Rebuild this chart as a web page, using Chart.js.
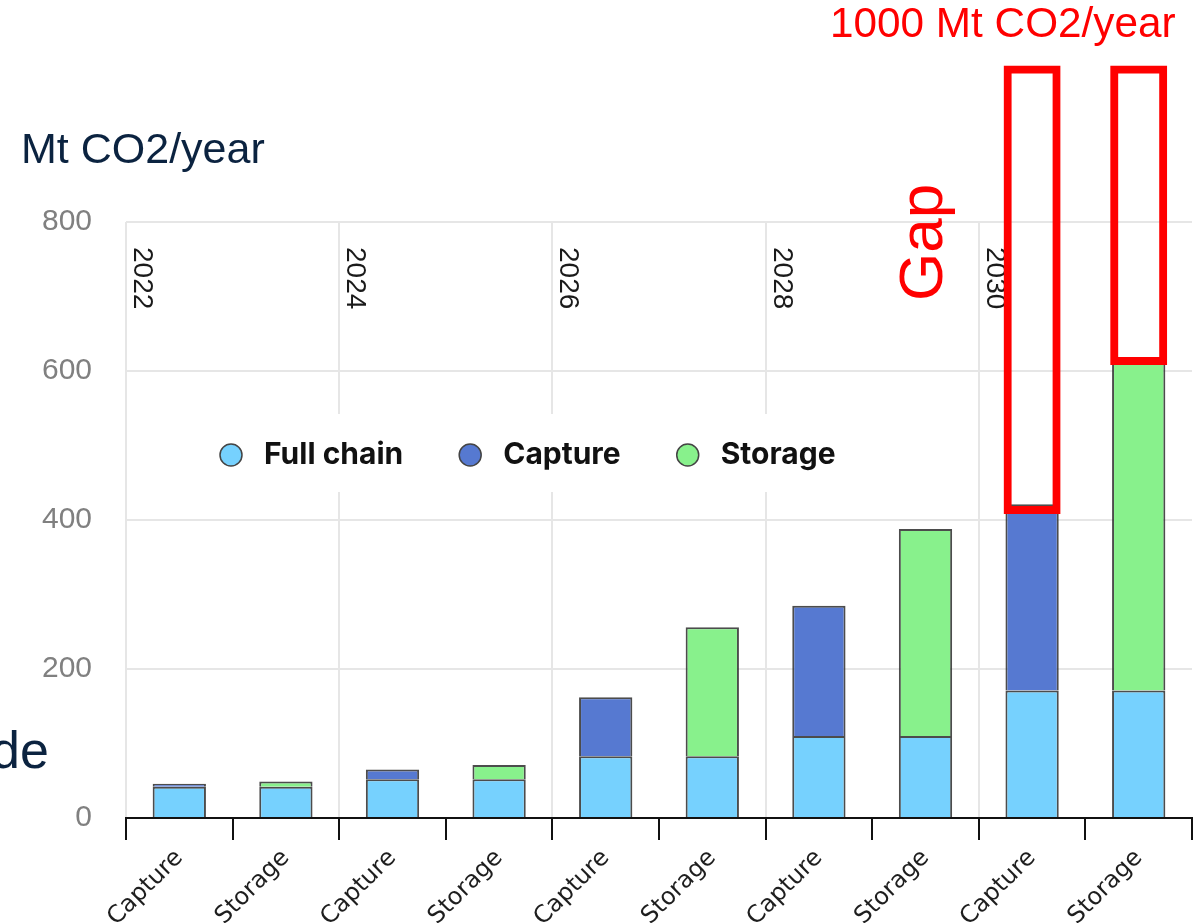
<!DOCTYPE html>
<html>
<head>
<meta charset="utf-8">
<script src="https://cdn.jsdelivr.net/npm/chart.js@4/dist/chart.umd.min.js"></script>
<style>
  body { margin: 0; background: #fff; }
  #wrap { position: relative; width: 1196px; height: 923px; overflow: hidden; }
  #chart { position: absolute; left: 0; top: 0; }
  .note { position: absolute; font-family: "Liberation Sans", Arial, sans-serif; line-height: 1; white-space: nowrap; }
  #unit { left: 21px; top: 127px; font-size: 43px; color: #0b2340; }
  #target { left: 830px; top: 2px; font-size: 42.3px; color: #ff0000; }
  #gap { left: 890px; top: 301px; font-size: 62px; color: #ff0000; transform: rotate(-90deg); transform-origin: 0 0; }
  #cut { left: -9px; top: 724px; font-size: 52px; color: #0b2340; }
</style>
</head>
<body>
<div id="wrap">
  <canvas id="chart" width="1196" height="923"></canvas>
  <div class="note" id="unit">Mt CO2/year</div>
  <div class="note" id="target">1000 Mt CO2/year</div>
  <div class="note" id="gap">Gap</div>
  <div class="note" id="cut">de</div>
</div>
<script>
const categories = ['Capture', 'Storage', 'Capture', 'Storage', 'Capture', 'Storage', 'Capture', 'Storage', 'Capture', 'Storage'];
const yearLabels = ['2022', '2024', '2026', '2028', '2030'];
const fullChain = [42, 42, 52, 52, 83, 83, 110, 110, 171, 171];
const capture = [4, null, 13, null, 79, null, 175, null, 250, null];
const storage = [null, 7, null, 19, null, 173, null, 278, null, 440];
const gapBottom = [null, null, null, null, null, null, null, null, 408, 608];
const gapTop = [null, null, null, null, null, null, null, null, 1010, 1010];
const yTicks = [0, 200, 400, 600, 800];

const barBorder = 'rgba(45, 45, 45, 0.85)';

// legend + year labels drawn inside the plot
const overlayPlugin = {
  id: 'overlay',
  beforeDatasetsDraw(chart) {
    const { ctx, chartArea, scales } = chart;
    const x = scales.x;
    const half = x.width / categories.length / 2;
    ctx.save();
    // year labels next to every other grid line
    ctx.fillStyle = '#1a1a1a';
    ctx.font = '28px "Liberation Sans", Arial, sans-serif';
    ctx.textBaseline = 'alphabetic';
    yearLabels.forEach((yr, k) => {
      const edge = x.getPixelForValue(k * 2) - half;
      ctx.save();
      ctx.translate(edge + 8, chartArea.top + 25);
      ctx.rotate(Math.PI / 2);
      ctx.fillText(yr, 0, 0);
      ctx.restore();
    });
    // legend box
    ctx.fillStyle = '#fff';
    ctx.fillRect(200, 414, 670, 78);
    let cx = 231;
    const cy = 455;
    ctx.font = 'bold 30px Inter, "Noto Sans", sans-serif';
    ctx.textBaseline = 'middle';
    chart.data.datasets.slice(0, 3).forEach(ds => {
      ctx.beginPath();
      ctx.arc(cx, cy, 11, 0, Math.PI * 2);
      ctx.fillStyle = ds.backgroundColor;
      ctx.fill();
      ctx.lineWidth = 1.5;
      ctx.strokeStyle = '#444';
      ctx.stroke();
      ctx.fillStyle = '#111';
      ctx.fillText(ds.label, cx + 33, cy);
      cx += 33 + ctx.measureText(ds.label).width + 67;
    });
    ctx.restore();
  }
};

new Chart(document.getElementById('chart'), {
  type: 'bar',
  data: {
    labels: categories,
    datasets: [
      { label: 'Full chain', data: fullChain, backgroundColor: '#76d1fe' },
      { label: 'Capture', data: capture, backgroundColor: '#5679d1' },
      { label: 'Storage', data: storage, backgroundColor: '#88f18c' },
      {
        // gap up to 1000 Mt, on its own (unstacked) value axis
        label: 'Gap',
        data: gapBottom.map((b, i) => (b === null ? null : [b, gapTop[i]])),
        yAxisID: 'y2',
        backgroundColor: 'rgba(0,0,0,0)',
        borderColor: '#ff0000',
        borderWidth: 8,
        borderSkipped: false,
        barPercentage: 0.535,
        clip: false,
        order: -1
      }
    ]
  },
  options: {
    responsive: false,
    animation: false,
    devicePixelRatio: 1,
    layout: { padding: { top: 222, right: 4, left: 0, bottom: 0 } },
    datasets: {
      bar: {
        barPercentage: 0.5,
        categoryPercentage: 1,
        borderColor: barBorder,
        borderWidth: 2
      }
    },
    plugins: {
      legend: { display: false },
      tooltip: { enabled: false }
    },
    scales: {
      x: {
        stacked: true,
        offset: true,
        afterFit: s => { s.height = 105; },
        grid: {
          offset: true,
          color: c => (c.index % 2 === 0 && c.index < categories.length ? '#e6e6e6' : 'rgba(0,0,0,0)'),
          lineWidth: 2,
          tickColor: '#111',
          tickWidth: 2,
          tickLength: 22
        },
        border: { color: '#111', width: 2 },
        ticks: {
          color: '#1e1e1e',
          font: { family: '"DejaVu Sans", Verdana, sans-serif', size: 24 },
          minRotation: 45,
          maxRotation: 45,
          padding: 4
        }
      },
      y: {
        stacked: true,
        min: 0,
        max: 800,
        afterFit: s => { s.width = 126; },
        afterBuildTicks: s => { s.ticks = yTicks.map(v => ({ value: v })); },
        grid: {
          color: c => (c.tick && c.tick.value === 0 ? 'rgba(0,0,0,0)' : '#e6e6e6'),
          lineWidth: 2,
          drawTicks: false
        },
        border: { display: false },
        ticks: {
          color: '#808080',
          font: { family: '"Liberation Sans", Arial, sans-serif', size: 30 },
          padding: 34
        }
      },
      y2: {
        type: 'linear',
        position: 'left',
        stacked: false,
        min: 0,
        max: 800,
        display: false
      }
    }
  },
  plugins: [overlayPlugin]
});
</script>
</body>
</html>
